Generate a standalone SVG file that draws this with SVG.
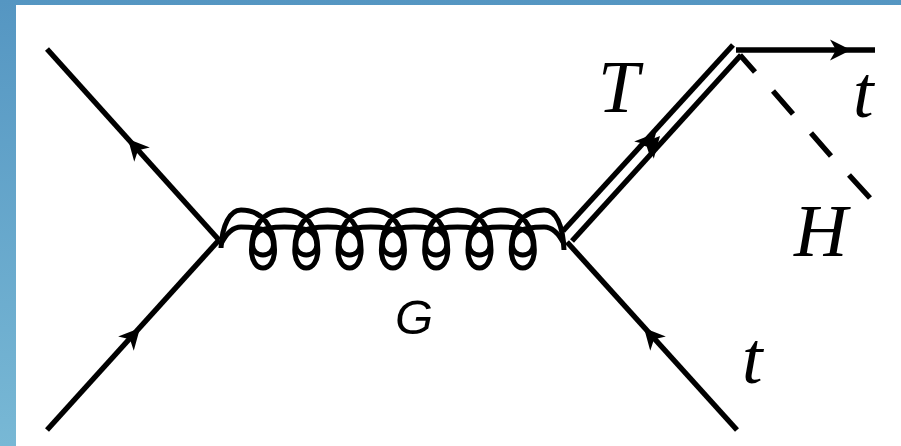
<svg xmlns="http://www.w3.org/2000/svg" width="901" height="446" viewBox="0 0 901 446">
<style>
.l{fill:none;stroke:#000;stroke-width:5.4}
.c{fill:none;stroke:#000;stroke-width:5}
.m{font-family:"Liberation Serif",serif;font-style:italic;font-size:74px;fill:#000}
.s{font-family:"Liberation Sans",sans-serif;font-style:italic;font-size:49px;fill:#000}
</style>
<defs>
<linearGradient id="bg" x1="0" y1="0" x2="0" y2="1"><stop offset="0" stop-color="#5596c2"/><stop offset="1" stop-color="#78b8d5"/></linearGradient>
<path id="a" d="M0,0L-21,-10.5L-15,0L-21,10.5Z" fill="#000"/>
</defs>
<rect id="background" width="901" height="446" fill="url(#bg)"/>
<rect id="panel" x="16" y="5" width="885" height="441" fill="#fff"/>
<g id="connectors">
<path id="q1" class="l" d="M47,49L219,240"/>
<use href="#a" transform="translate(128,139) rotate(-132)"/>
<path id="q2" class="l" d="M47,430L219,240"/>
<use href="#a" transform="translate(140,328) rotate(-48)"/>
<path id="g1" class="c" d="M221,248C222,225 230,210 241,210c22,0 33.5,18 33.5,40c0,11 -5,18 -11.5,18c-6.5,0 -11.5,-7 -11.5,-18c0,-22 11,-40 32.8,-40c22,0 33.5,18 33.5,40c0,11 -5,18 -11.5,18c-6.5,0 -11.5,-7 -11.5,-18c0,-22 11,-40 32.8,-40c22,0 33.5,18 33.5,40c0,11 -5,18 -11.5,18c-6.5,0 -11.5,-7 -11.5,-18c0,-22 11,-40 32.8,-40c22,0 33.5,18 33.5,40c0,11 -5,18 -11.5,18c-6.5,0 -11.5,-7 -11.5,-18c0,-22 11,-40 32.8,-40c22,0 33.5,18 33.5,40c0,11 -5,18 -11.5,18c-6.5,0 -11.5,-7 -11.5,-18c0,-22 11,-40 32.8,-40c22,0 33.5,18 33.5,40c0,11 -5,18 -11.5,18c-6.5,0 -11.5,-7 -11.5,-18c0,-22 11,-40 32.8,-40c22,0 33.5,18 33.5,40c0,11 -5,18 -11.5,18c-6.5,0 -11.5,-7 -11.5,-18c0,-22 11,-40 32.8,-40C556,210 563,225 564,250"/>
<path id="g2" class="c" d="M221,244C226,234 232,227 241,227c26,0 32.5,6 32.5,18c0,6 -5,10 -10.5,10c-5.5,0 -10.5,-4 -10.5,-10c0,-12 6,-18 31.8,-18c26,0 32.5,6 32.5,18c0,6 -5,10 -10.5,10c-5.5,0 -10.5,-4 -10.5,-10c0,-12 6,-18 31.8,-18c26,0 32.5,6 32.5,18c0,6 -5,10 -10.5,10c-5.5,0 -10.5,-4 -10.5,-10c0,-12 6,-18 31.8,-18c26,0 32.5,6 32.5,18c0,6 -5,10 -10.5,10c-5.5,0 -10.5,-4 -10.5,-10c0,-12 6,-18 31.8,-18c26,0 32.5,6 32.5,18c0,6 -5,10 -10.5,10c-5.5,0 -10.5,-4 -10.5,-10c0,-12 6,-18 31.8,-18c26,0 32.5,6 32.5,18c0,6 -5,10 -10.5,10c-5.5,0 -10.5,-4 -10.5,-10c0,-12 6,-18 31.8,-18c26,0 32.5,6 32.5,18c0,6 -5,10 -10.5,10c-5.5,0 -10.5,-4 -10.5,-10c0,-12 6,-18 31.8,-18C553,227 559,234 564,244"/>
<path id="q3" class="l" d="M567,242L737,430"/>
<use href="#a" transform="translate(644,328) rotate(-132)"/>
<path id="t1" class="l" d="M563,231L733,45"/>
<path id="t2" class="l" d="M572,241L741,55"/>
<use href="#a" transform="translate(656,133) rotate(-48)"/>
<use href="#a" transform="translate(660,136) rotate(-48)"/>
<path id="t3" class="l" d="M736,50L875,50"/>
<use href="#a" transform="translate(851,50)"/>
<path id="h" class="l" d="M740,55L755,72M773,91L793,114M811,133L831,156M849,175L870,198"/>
</g>
<g id="label-T"><text class="m" x="598" y="112">T</text></g>
<g id="label-t-top"><text class="m" x="853" y="117">t</text></g>
<g id="label-H"><text class="m" x="794" y="256">H</text></g>
<g id="label-t-bottom"><text class="m" x="742" y="383">t</text></g>
<g id="label-G"><text class="s" x="395" y="334">G</text></g>
</svg>
